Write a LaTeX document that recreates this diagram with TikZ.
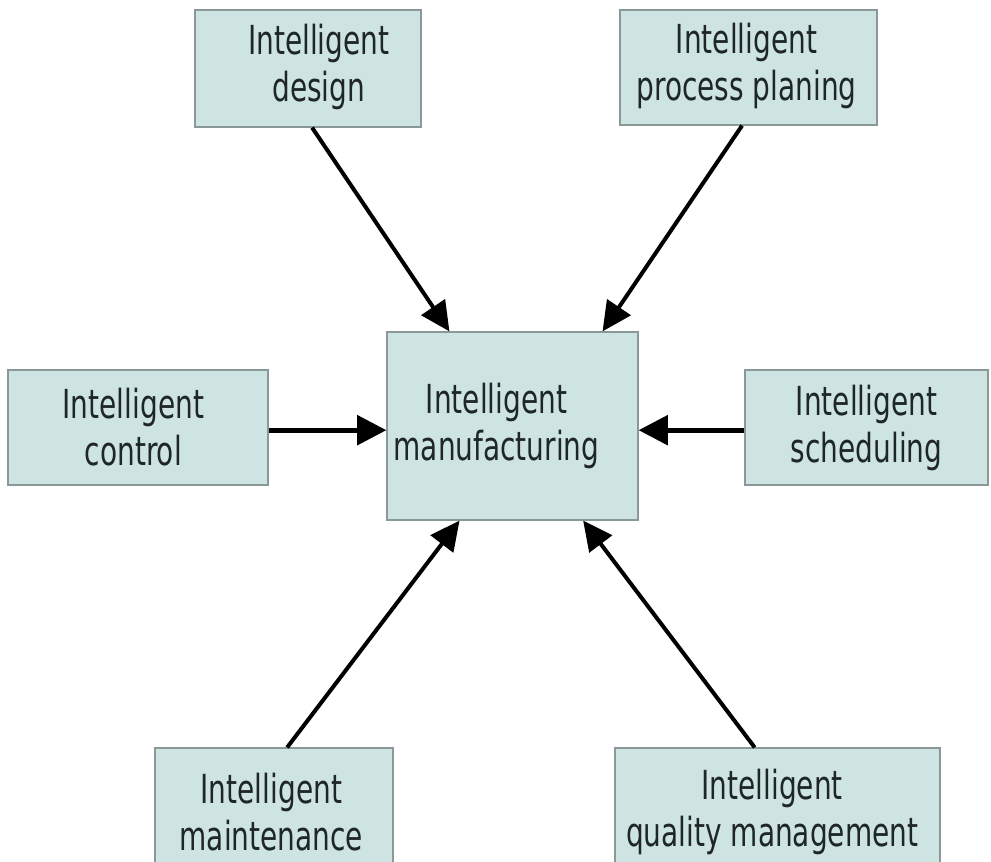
\documentclass[tikz,border=0pt]{standalone}
\usepackage{fontspec}
\usetikzlibrary{arrows.meta,calc}
\newfontfamily\boxfont[FakeStretch=0.70]{DejaVu Sans}
\definecolor{boxfill}{HTML}{CEE4E3}
\definecolor{boxedge}{HTML}{8A9898}
\definecolor{inkcol}{HTML}{1E2626}
\begin{document}
\begin{tikzpicture}[x=0.75pt,y=-0.75pt,
  box/.style={draw=boxedge, fill=boxfill, line width=0.9pt, inner sep=0pt, rectangle},
  lbl/.style={font=\boxfont\fontsize{30pt}{35.25pt}\selectfont, align=center, text=inkcol, inner sep=0pt},
  arr/.style={line width=3pt, -{Triangle[length=22pt,width=21pt]}},
  harr/.style={line width=3.6pt, -{Triangle[length=22pt,width=22pt]}}]
\useasboundingbox (0,0) rectangle (991,861);
\clip (0,0) rectangle (991,861);

% boxes
\node[box, minimum width=169.5pt, minimum height=87.75pt] (design) at (308,68.5) {};
\node[box, minimum width=192.75pt, minimum height=86.25pt] (process) at (748.5,67.5) {};
\node[box, minimum width=195pt, minimum height=86.25pt] (control) at (138,427.5) {};
\node[box, minimum width=188.25pt, minimum height=141pt] (mfg) at (512.5,426) {};
\node[box, minimum width=182.25pt, minimum height=86.25pt] (sched) at (866.5,427.5) {};
\node[box, minimum width=178.5pt, minimum height=93pt] (maint) at (274,810) {};
\node[box, minimum width=243.75pt, minimum height=93pt] (quality) at (777.5,810) {};

% labels
\node[lbl] (designtxt) at ([xshift=8pt,yshift=1.5pt]design.center) {Intelligent\\design};
\node[lbl] (processtxt) at ([xshift=-1.5pt,yshift=1pt]process.center) {Intelligent\\process planing};
\node[lbl] (controltxt) at ([xshift=-3.5pt]control.center) {Intelligent\\control};
\node[lbl] (mfgtxt) at ([xshift=-12pt]mfg.center) {Intelligent\\manufacturing};
\node[lbl] (schedtxt) at ([xshift=0pt]sched.center) {Intelligent\\scheduling};
\node[lbl] (mainttxt) at ([xshift=-2pt,yshift=-1.5pt]maint.center) {Intelligent\\maintenance};
\node[lbl] (qualitytxt) at ([xshift=-4pt,yshift=-1.5pt]quality.center) {Intelligent\\quality management};

% connectors into the central box
\draw[arr] ($(design.south west)!0.518!(design.south east)$) -- ($(mfg.north west)!0.25!(mfg.north east)$);
\draw[arr] ($(process.south west)!0.475!(process.south east)$) -- ($(mfg.north west)!0.857!(mfg.north east)$);
\draw[harr] ([yshift=-2pt]control.east) -- ([yshift=-2pt]control.east -| mfg.west);
\draw[harr] ([yshift=-2pt]sched.west) -- ([yshift=-2pt]sched.west -| mfg.east);
\draw[arr] ($(maint.north west)!0.555!(maint.north east)$) -- ($(mfg.south west)!0.29!(mfg.south east)$);
\draw[arr] ($(quality.north west)!0.43!(quality.north east)$) -- ($(mfg.south west)!0.78!(mfg.south east)$);
\end{tikzpicture}
\end{document}
